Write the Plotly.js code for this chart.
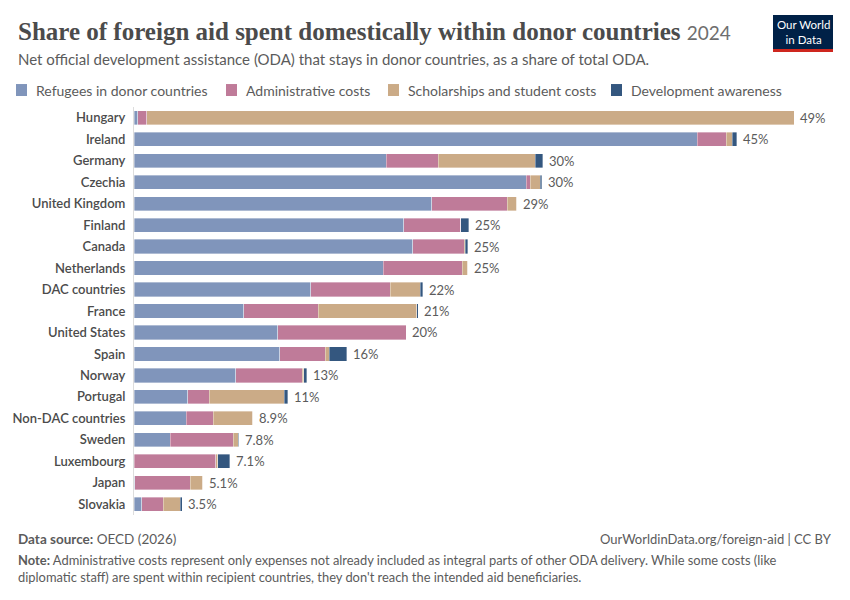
<!DOCTYPE html>
<html>
<head>
<meta charset="utf-8">
<script src="https://cdn.plot.ly/plotly-3.0.1.min.js"></script>
<style>
html,body{margin:0;padding:0;background:#fff;}
#chart{width:850px;height:600px;}
</style>
</head>
<body>
<div id="chart"></div>
<script>
const countries = ["Hungary","Ireland","Germany","Czechia","United Kingdom","Finland","Canada","Netherlands","DAC countries","France","United States","Spain","Norway","Portugal","Non-DAC countries","Sweden","Luxembourg","Japan","Slovakia"];
const refugees     = [0.27, 42.0, 18.8, 29.25, 22.18, 20.09, 20.76, 18.58, 13.16, 8.17, 10.7, 10.85, 7.57, 4.02, 3.9, 2.7, 0.02, 0.07, 0.57];
const admin        = [0.67, 2.14, 3.87, 0.3, 5.64, 4.28, 3.87, 5.89, 5.94, 5.57, 9.59, 3.4, 4.99, 1.59, 2.01, 4.69, 6.06, 4.12, 1.62];
const scholarships = [48.29, 0.45, 7.23, 0.75, 0.72, 0.0, 0.07, 0.4, 2.24, 7.33, 0.0, 0.32, 0.1, 5.59, 2.96, 0.37, 0.17, 0.95, 1.27];
const awareness    = [0.0, 0.35, 0.57, 0.1, 0.0, 0.6, 0.18, 0.0, 0.2, 0.1, 0.0, 1.27, 0.2, 0.27, 0.0, 0.05, 0.87, 0.0, 0.13];
const totalLabels  = ["49%","45%","30%","30%","29%","25%","25%","25%","22%","21%","20%","16%","13%","11%","8.9%","7.8%","7.1%","5.1%","3.5%"];
const seriesNames  = ["Refugees in donor countries","Administrative costs","Scholarships and student costs","Development awareness"];
const seriesColors = ["#8095bb","#bf7b99","#cbab87","#34577f"];
const seriesValues = [refugees, admin, scholarships, awareness];

const traces = seriesValues.map((vals, i) => ({
  type: 'bar',
  orientation: 'h',
  y: countries,
  x: vals,
  name: seriesNames[i],
  marker: {color: seriesColors[i], line: {color: 'rgba(255,255,255,0.6)', width: 0.6}},
  width: 0.66,
  hoverinfo: 'skip',
  showlegend: false
}));

const totals = countries.map((c, k) => seriesValues.reduce((s, arr) => s + arr[k], 0));

const T = 107, B = 515.5, H = B - T, L = 134, W = 711;
const px = v => (v - L) / W;
const py = v => 1 + (T - v) / H;

const annotations = countries.map((c, k) => ({
  x: totals[k], y: c, xref: 'x', yref: 'y',
  text: totalLabels[k], showarrow: false,
  xanchor: 'left', xshift: 4,
  font: {family: 'Lato, sans-serif', size: 13, color: '#5b5b5b'}
}));

// header
annotations.push({
  xref: 'paper', yref: 'paper', x: px(16), y: py(31),
  xanchor: 'left', yanchor: 'middle', showarrow: false,
  text: '<b>Share of foreign aid spent domestically within donor countries</b> <span style="font-family:Lato, sans-serif;font-size:19px;color:#6e6e6e">2024</span>',
  font: {family: 'Liberation Serif, serif', size: 25, color: '#4b4b4b'}
});
annotations.push({
  xref: 'paper', yref: 'paper', x: px(16), y: py(59),
  xanchor: 'left', yanchor: 'middle', showarrow: false,
  text: 'Net official development assistance (ODA) that stays in donor countries, as a share of total ODA.',
  font: {family: 'Lato, sans-serif', size: 15, color: '#5b5b5b'}
});
// legend
const legendX = [16, 226, 388, 611];
const shapes = [];
legendX.forEach((lx, i) => {
  shapes.push({type: 'rect', xref: 'paper', yref: 'paper',
    x0: px(lx), x1: px(lx + 11), y0: py(96), y1: py(84),
    fillcolor: seriesColors[i], line: {width: 0}});
  annotations.push({xref: 'paper', yref: 'paper', x: px(lx + 18), y: py(90),
    xanchor: 'left', yanchor: 'middle', showarrow: false, text: seriesNames[i],
    font: {family: 'Lato, sans-serif', size: 14, color: '#5b5b5b'}});
});
// logo
shapes.push({type: 'rect', xref: 'paper', yref: 'paper',
  x0: px(773), x1: px(833), y0: py(52), y1: py(15),
  fillcolor: '#002147', line: {width: 0}});
shapes.push({type: 'rect', xref: 'paper', yref: 'paper',
  x0: px(773), x1: px(833), y0: py(52), y1: py(49),
  fillcolor: '#ce261e', line: {width: 0}});
annotations.push({xref: 'paper', yref: 'paper', x: px(803), y: py(32),
  xanchor: 'center', yanchor: 'middle', showarrow: false,
  text: 'Our World<br>in Data', font: {family: 'Lato, sans-serif', size: 11.5, color: '#ffffff'}});
// footer
annotations.push({xref: 'paper', yref: 'paper', x: px(16), y: py(540),
  xanchor: 'left', yanchor: 'middle', showarrow: false,
  text: '<b>Data source:</b> OECD (2026)',
  font: {family: 'Lato, sans-serif', size: 13.5, color: '#5b5b5b'}});
annotations.push({xref: 'paper', yref: 'paper', x: px(834), y: py(540),
  xanchor: 'right', yanchor: 'middle', showarrow: false,
  text: 'OurWorldinData.org/foreign-aid | CC BY',
  font: {family: 'Lato, sans-serif', size: 13, color: '#5b5b5b'}});
annotations.push({xref: 'paper', yref: 'paper', x: px(16), y: py(569),
  xanchor: 'left', yanchor: 'middle', align: 'left', showarrow: false,
  text: '<b>Note:</b> Administrative costs represent only expenses not already included as integral parts of other ODA delivery. While some costs (like<br>diplomatic staff) are spent within recipient countries, they don\'t reach the intended aid beneficiaries.',
  font: {family: 'Lato, sans-serif', size: 12.9, color: '#5b5b5b'}});

const layout = {
  width: 850, height: 600,
  margin: {l: L, r: 850 - L - W, t: T, b: 600 - B},
  barmode: 'stack',
  paper_bgcolor: '#fff', plot_bgcolor: '#fff',
  font: {family: 'Lato, sans-serif'},
  xaxis: {range: [0, 53], showgrid: false, zeroline: false, showticklabels: false, fixedrange: true},
  yaxis: {autorange: 'reversed', showgrid: false, zeroline: false,
    showline: true, linecolor: '#dddddd', linewidth: 1,
    ticks: '', ticklabelstandoff: 5,
    tickfont: {family: 'Lato, sans-serif', size: 13, color: '#4b4b4b', weight: 600}},
  annotations: annotations,
  shapes: shapes
};

Plotly.newPlot('chart', traces, layout, {displayModeBar: false, staticPlot: true});
</script>
</body>
</html>
